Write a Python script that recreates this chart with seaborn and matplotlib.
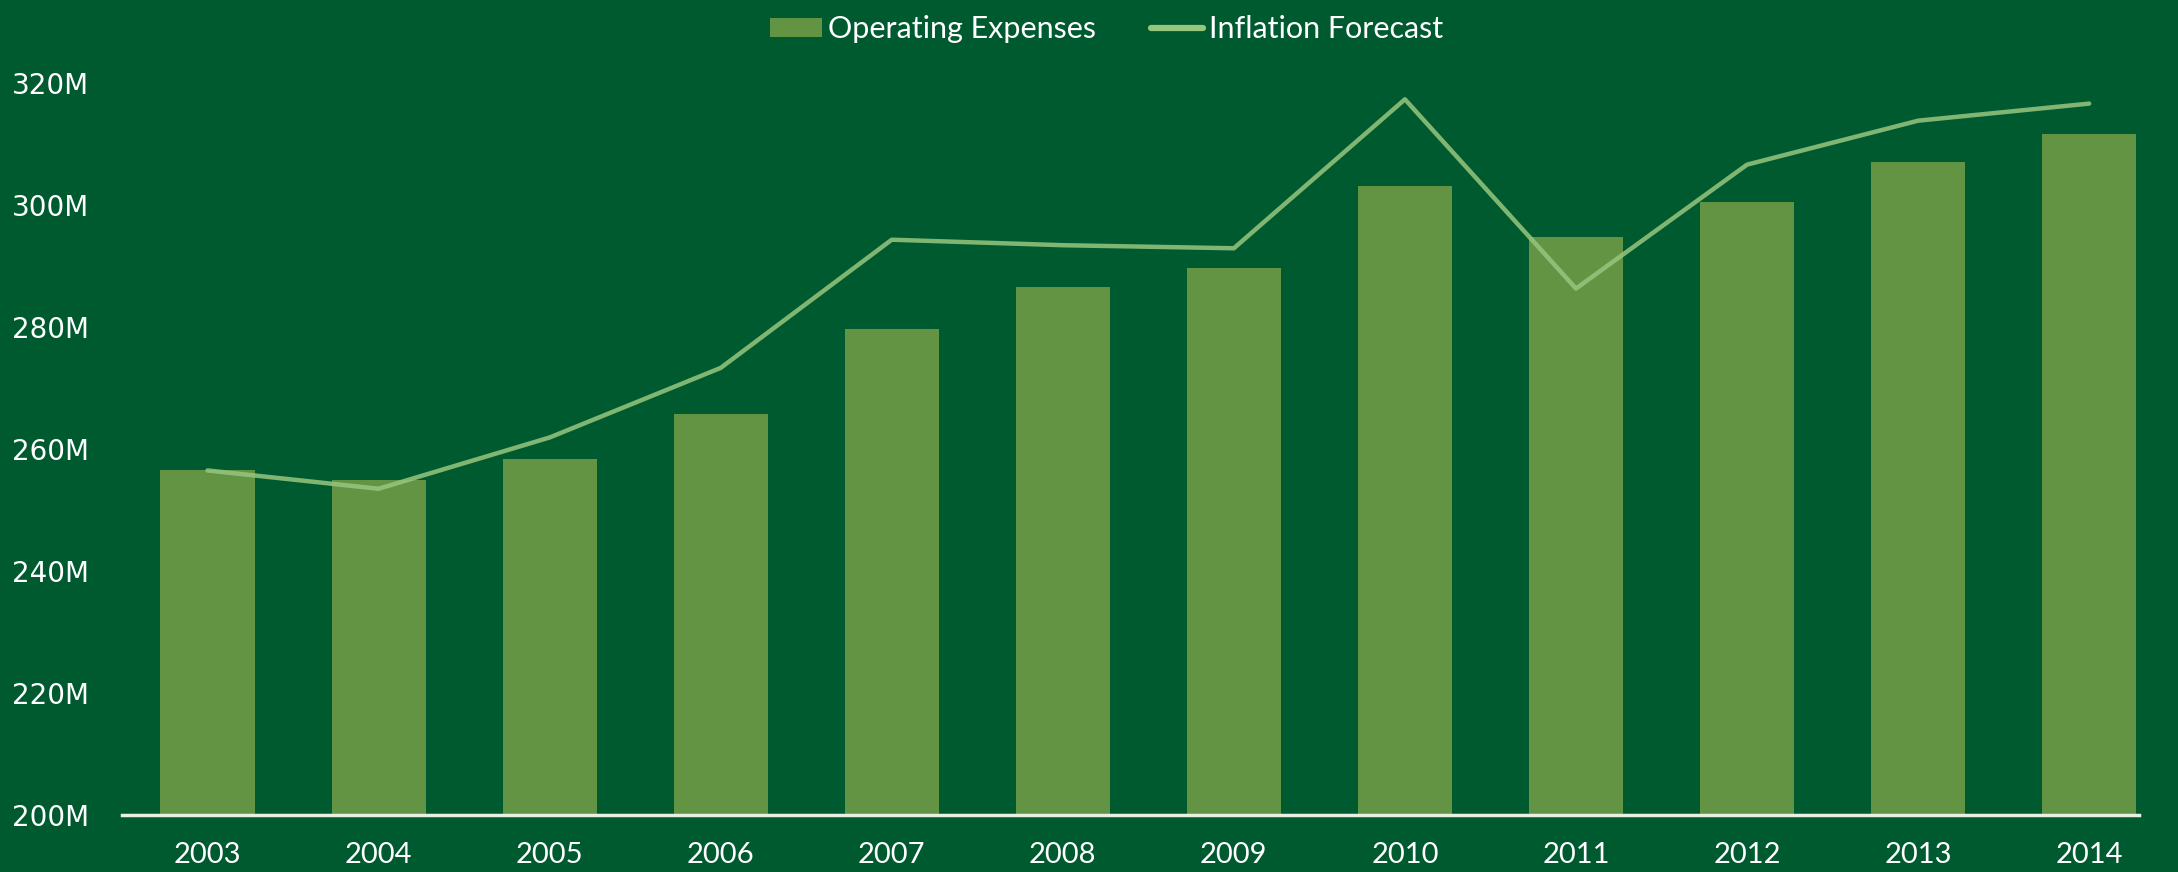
import numpy as np
import pandas as pd
import matplotlib
matplotlib.use("Agg")
import matplotlib.pyplot as plt
import seaborn as sns
from matplotlib.patches import Patch
from matplotlib.lines import Line2D

years = ["2003", "2004", "2005", "2006", "2007", "2008",
         "2009", "2010", "2011", "2012", "2013", "2014"]
# values in millions
operating_expenses = [256.5, 254.9, 258.3, 265.8, 279.7, 286.5,
                      289.7, 303.1, 294.7, 300.4, 307.0, 311.6]
inflation_forecast = [256.5, 253.5, 261.9, 273.3, 294.3, 293.4,
                      292.9, 317.3, 286.3, 306.6, 313.8, 316.6]
y_ticks = [200, 220, 240, 260, 280, 300, 320]

bg = "#005a30"
bar_col = "#629444"
line_col = "#97c67e"

sns.set_theme(style="white")
plt.rcParams["font.family"] = ["Lato", "DejaVu Sans"]

df = pd.DataFrame({"year": years, "opex": operating_expenses,
                   "infl": inflation_forecast})

fig = plt.figure(figsize=(21.78, 8.72), dpi=100, facecolor=bg)
ax = fig.add_axes([0.056, 0.065, 0.926, 0.84])
ax.set_facecolor(bg)

sns.barplot(data=df, x="year", y="opex", color=bar_col, width=0.55,
            saturation=1, edgecolor="none", linewidth=0, ax=ax)
sns.lineplot(x=np.arange(len(years)), y=df["infl"], color=line_col,
             alpha=0.85, linewidth=3.2, ax=ax)

ax.set_ylim(200, 320)
ax.set_xlim(-0.5, 11.29)
ax.set_yticks(y_ticks)
ax.set_yticklabels([f"{v}M" for v in y_ticks], fontfamily="DejaVu Sans")
ax.set_xlabel("")
ax.set_ylabel("")
ax.tick_params(axis="y", colors="white", labelsize=20, length=0, pad=24)
ax.tick_params(axis="x", colors="white", labelsize=21, length=0, pad=19)

for s in ["top", "right", "left"]:
    ax.spines[s].set_visible(False)
ax.spines["bottom"].set_color("#e8efe6")
ax.spines["bottom"].set_linewidth(2.5)

handles = [Patch(facecolor=bar_col, edgecolor="none"),
           Line2D([0], [0], color=line_col, linewidth=4.5)]
fig.legend(handles, ["Operating Expenses", "Inflation Forecast"],
           loc="upper center", bbox_to_anchor=(0.508, 1.014), ncol=2,
           frameon=False, fontsize=22, labelcolor="white",
           handlelength=1.7, handleheight=0.6, handletextpad=0.2,
           columnspacing=1.8)

fig.savefig("out.png", dpi=100, facecolor=bg)
